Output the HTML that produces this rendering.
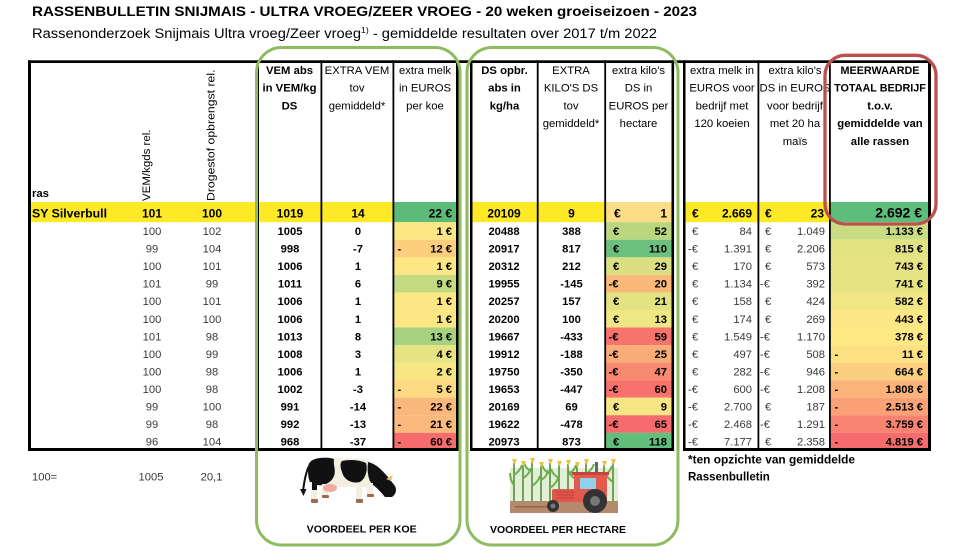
<!DOCTYPE html>
<html><head><meta charset="utf-8"><style>
html,body{margin:0;padding:0;background:#fff;}
svg{display:block}
text{font-family:"Liberation Sans",sans-serif;fill:#000}
.b{font-weight:bold}
.h{font-size:11.3px}
.d{font-size:11.2px}
.s{font-size:12px;font-weight:bold}
.g{fill:#3a3a3a}
.m{text-anchor:middle}
.e{text-anchor:end}
</style></head><body>
<svg width="980" height="551" viewBox="0 0 980 551" xmlns="http://www.w3.org/2000/svg">
<defs><clipPath id="c1"><rect x="759" y="60" width="70" height="140"/></clipPath></defs>
<rect width="980" height="551" fill="#fff"/>

<!-- titles -->
<text x="32" y="16" class="b" font-size="14" textLength="665" lengthAdjust="spacingAndGlyphs">RASSENBULLETIN SNIJMAIS - ULTRA VROEG/ZEER VROEG - 20 weken groeiseizoen - 2023</text>
<text x="32" y="38" font-size="13.5" textLength="625" lengthAdjust="spacingAndGlyphs">Rassenonderzoek Snijmais Ultra vroeg/Zeer vroeg<tspan font-size="8" dy="-5">1)</tspan><tspan dy="5"> - gemiddelde resultaten over 2017 t/m 2022</tspan></text>

<!-- yellow row -->
<rect x="31" y="202" width="426" height="20.2" fill="#fde925"/>
<rect x="472" y="202" width="200" height="20.2" fill="#fde925"/>
<rect x="685" y="202" width="145" height="20.2" fill="#fde925"/>
<rect x="393.5" y="202" width="63" height="20.2" fill="#5dbb7a"/>
<rect x="605" y="202" width="67" height="20.2" fill="#fcdc86"/>
<rect x="830" y="202" width="98" height="20.2" fill="#5dbd7b"/>

<!-- melk col fills -->
<g>
<rect x="393.5" y="222.2" width="63" height="17.6" fill="#fde684"/>
<rect x="393.5" y="239.75" width="63" height="17.6" fill="#fcce7e"/>
<rect x="393.5" y="257.3" width="63" height="17.6" fill="#fde684"/>
<rect x="393.5" y="274.85" width="63" height="17.6" fill="#c4da81"/>
<rect x="393.5" y="292.4" width="63" height="17.6" fill="#fde684"/>
<rect x="393.5" y="309.95" width="63" height="17.6" fill="#fde684"/>
<rect x="393.5" y="327.5" width="63" height="17.6" fill="#a6d17f"/>
<rect x="393.5" y="345.05" width="63" height="17.6" fill="#e6e383"/>
<rect x="393.5" y="362.6" width="63" height="17.6" fill="#f6e684"/>
<rect x="393.5" y="380.15" width="63" height="17.6" fill="#fdd982"/>
<rect x="393.5" y="397.7" width="63" height="17.6" fill="#fab87a"/>
<rect x="393.5" y="415.25" width="63" height="17.6" fill="#fbba7b"/>
<rect x="393.5" y="432.8" width="63" height="17.6" fill="#f66b6b"/>
</g>
<!-- DS euro col fills -->
<g>
<rect x="605" y="222.2" width="67" height="17.6" fill="#bad780"/>
<rect x="605" y="239.75" width="67" height="17.6" fill="#6ac07c"/>
<rect x="605" y="257.3" width="67" height="17.6" fill="#dae082"/>
<rect x="605" y="274.85" width="67" height="17.6" fill="#fab879"/>
<rect x="605" y="292.4" width="67" height="17.6" fill="#e4e383"/>
<rect x="605" y="309.95" width="67" height="17.6" fill="#efe684"/>
<rect x="605" y="327.5" width="67" height="17.6" fill="#f7746d"/>
<rect x="605" y="345.05" width="67" height="17.6" fill="#faac77"/>
<rect x="605" y="362.6" width="67" height="17.6" fill="#f88a71"/>
<rect x="605" y="380.15" width="67" height="17.6" fill="#f7726d"/>
<rect x="605" y="397.7" width="67" height="17.6" fill="#f7e684"/>
<rect x="605" y="415.25" width="67" height="17.6" fill="#f66b6b"/>
<rect x="605" y="432.8" width="67" height="17.6" fill="#63be7b"/>
</g>
<!-- MEER col fills -->
<g>
<rect x="830" y="222.2" width="98" height="17.6" fill="#c9dc81"/>
<rect x="830" y="239.75" width="98" height="17.6" fill="#e1e282"/>
<rect x="830" y="257.3" width="98" height="17.6" fill="#e6e383"/>
<rect x="830" y="274.85" width="98" height="17.6" fill="#e6e383"/>
<rect x="830" y="292.4" width="98" height="17.6" fill="#f1e684"/>
<rect x="830" y="309.95" width="98" height="17.6" fill="#fbe884"/>
<rect x="830" y="327.5" width="98" height="17.6" fill="#fde884"/>
<rect x="830" y="345.05" width="98" height="17.6" fill="#fde082"/>
<rect x="830" y="362.6" width="98" height="17.6" fill="#fcce7f"/>
<rect x="830" y="380.15" width="98" height="17.6" fill="#fbb379"/>
<rect x="830" y="397.7" width="98" height="17.6" fill="#faa176"/>
<rect x="830" y="415.25" width="98" height="17.6" fill="#f88370"/>
<rect x="830" y="432.8" width="98" height="17.6" fill="#f66b6b"/>
</g>

<!-- borders -->
<g fill="#000">
<rect x="28" y="60.3" width="903" height="2.7"/>
<rect x="28" y="448" width="430.5" height="3"/>
<rect x="470" y="448" width="204" height="3"/>
<rect x="683" y="448" width="248" height="3"/>
<rect x="28" y="60.3" width="3" height="390.7"/>
<rect x="257" y="60.3" width="2" height="390.7"/>
<rect x="320.5" y="60.3" width="1.8" height="390.7"/>
<rect x="392.5" y="60.3" width="1.8" height="390.7"/>
<rect x="456" y="60.3" width="2.5" height="390.7"/>
<rect x="470" y="60.3" width="2.5" height="390.7"/>
<rect x="536.8" y="60.3" width="1.8" height="390.7"/>
<rect x="604.3" y="60.3" width="1.8" height="390.7"/>
<rect x="671.5" y="60.3" width="2.6" height="390.7"/>
<rect x="683" y="60.3" width="2.5" height="390.7"/>
<rect x="757.5" y="60.3" width="1.8" height="390.7"/>
<rect x="829" y="60.3" width="1.8" height="390.7"/>
<rect x="928" y="60.3" width="3" height="390.7"/>
</g>

<!-- header texts -->
<g class="h">
<text x="32" y="197" class="b">ras</text>
<text transform="translate(150,201) rotate(-90)" textLength="71.5" lengthAdjust="spacingAndGlyphs">VEM/kgds rel.</text>
<text transform="translate(214.5,201) rotate(-90)" textLength="131.5" lengthAdjust="spacingAndGlyphs">Drogestof opbrengst rel.</text>

<text x="289.5" y="74" class="b m">VEM abs</text>
<text x="289.5" y="91.7" class="b m">in VEM/kg</text>
<text x="289.5" y="109.4" class="b m">DS</text>

<text x="357" y="74" class="m">EXTRA VEM</text>
<text x="357" y="91.7" class="m">tov</text>
<text x="357" y="109.4" class="m">gemiddeld*</text>

<text x="425" y="74" class="m">extra melk</text>
<text x="425" y="91.7" class="m">in EUROS</text>
<text x="425" y="109.4" class="m">per koe</text>

<text x="504.5" y="74" class="b m">DS opbr.</text>
<text x="504.5" y="91.7" class="b m">abs in</text>
<text x="504.5" y="109.4" class="b m">kg/ha</text>

<text x="571" y="74" class="m">EXTRA</text>
<text x="571" y="91.7" class="m">KILO'S DS</text>
<text x="571" y="109.4" class="m">tov</text>
<text x="571" y="127.1" class="m">gemiddeld*</text>

<text x="638.5" y="74" class="m">extra kilo's</text>
<text x="638.5" y="91.7" class="m">DS in</text>
<text x="638.5" y="109.4" class="m">EUROS per</text>
<text x="638.5" y="127.1" class="m">hectare</text>

<text x="722" y="74" class="m">extra melk in</text>
<text x="722" y="91.7" class="m">EUROS voor</text>
<text x="722" y="109.4" class="m">bedrijf met</text>
<text x="722" y="127.1" class="m">120 koeien</text>

<g clip-path="url(#c1)">
<text x="795" y="74" class="m">extra kilo's</text>
<text x="795" y="91.7" class="m">DS in EUROS</text>
<text x="795" y="109.4" class="m">voor bedrijf</text>
<text x="795" y="127.1" class="m">met 20 ha</text>
<text x="795" y="144.8" class="m">maïs</text>
</g>

<text x="880" y="74" class="b m" font-size="10.8">MEERWAARDE</text>
<text x="880" y="91.7" class="b m" font-size="10.8">TOTAAL BEDRIJF</text>
<text x="880" y="109.4" class="b m">t.o.v.</text>
<text x="880" y="127.1" class="b m">gemiddelde van</text>
<text x="880" y="144.8" class="b m">alle rassen</text>
</g>

<!-- Silverbull row -->
<g transform="translate(0,217.3)" class="s">
<text x="32" textLength="75" lengthAdjust="spacingAndGlyphs">SY Silverbull</text>
<text x="152" class="m">101</text>
<text x="212" class="m">100</text>
<text x="290" class="m">1019</text>
<text x="358" class="m">14</text>
<text x="452" class="e">22 €</text>
<text x="504" class="m">20109</text>
<text x="571.5" class="m">9</text>
<text x="614">€</text>
<text x="667" class="e">1</text>
<text x="692">€</text>
<text x="752" class="e">2.669</text>
<text x="765">€</text>
<text x="824" class="e">23</text>
<text x="922" class="e" font-size="14">2.692 €</text>
</g>

<!-- data rows -->
<g class="d">
<g transform="translate(0,235)">
<text x="152" class="g m">100</text><text x="212" class="g m">102</text>
<text x="290" class="b m">1005</text><text x="358" class="b m">0</text>
<text x="452" class="b e">1 €</text>
<text x="504" class="b m">20488</text><text x="571.5" class="b m">388</text>
<text x="613" class="b">€</text><text x="667" class="b e">52</text>
<text x="692" class="g">€</text><text x="752" class="g e">84</text>
<text x="765" class="g">€</text><text x="825" class="g e">1.049</text>
<text x="923" class="b e">1.133 €</text>
</g>
<g transform="translate(0,252.55)">
<text x="152" class="g m">99</text><text x="212" class="g m">104</text>
<text x="290" class="b m">998</text><text x="358" class="b m">-7</text>
<text x="397.5" class="b">-</text><text x="452" class="b e">12 €</text>
<text x="504" class="b m">20917</text><text x="571.5" class="b m">817</text>
<text x="613" class="b">€</text><text x="667" class="b e">110</text>
<text x="688" class="g">-€</text><text x="752" class="g e">1.391</text>
<text x="765" class="g">€</text><text x="825" class="g e">2.206</text>
<text x="923" class="b e">815 €</text>
</g>
<g transform="translate(0,270.1)">
<text x="152" class="g m">100</text><text x="212" class="g m">101</text>
<text x="290" class="b m">1006</text><text x="358" class="b m">1</text>
<text x="452" class="b e">1 €</text>
<text x="504" class="b m">20312</text><text x="571.5" class="b m">212</text>
<text x="613" class="b">€</text><text x="667" class="b e">29</text>
<text x="692" class="g">€</text><text x="752" class="g e">170</text>
<text x="765" class="g">€</text><text x="825" class="g e">573</text>
<text x="923" class="b e">743 €</text>
</g>
<g transform="translate(0,287.65)">
<text x="152" class="g m">101</text><text x="212" class="g m">99</text>
<text x="290" class="b m">1011</text><text x="358" class="b m">6</text>
<text x="452" class="b e">9 €</text>
<text x="504" class="b m">19955</text><text x="571.5" class="b m">-145</text>
<text x="608.5" class="b">-€</text><text x="667" class="b e">20</text>
<text x="692" class="g">€</text><text x="752" class="g e">1.134</text>
<text x="760" class="g">-€</text><text x="825" class="g e">392</text>
<text x="923" class="b e">741 €</text>
</g>
<g transform="translate(0,305.2)">
<text x="152" class="g m">100</text><text x="212" class="g m">101</text>
<text x="290" class="b m">1006</text><text x="358" class="b m">1</text>
<text x="452" class="b e">1 €</text>
<text x="504" class="b m">20257</text><text x="571.5" class="b m">157</text>
<text x="613" class="b">€</text><text x="667" class="b e">21</text>
<text x="692" class="g">€</text><text x="752" class="g e">158</text>
<text x="765" class="g">€</text><text x="825" class="g e">424</text>
<text x="923" class="b e">582 €</text>
</g>
<g transform="translate(0,322.75)">
<text x="152" class="g m">100</text><text x="212" class="g m">100</text>
<text x="290" class="b m">1006</text><text x="358" class="b m">1</text>
<text x="452" class="b e">1 €</text>
<text x="504" class="b m">20200</text><text x="571.5" class="b m">100</text>
<text x="613" class="b">€</text><text x="667" class="b e">13</text>
<text x="692" class="g">€</text><text x="752" class="g e">174</text>
<text x="765" class="g">€</text><text x="825" class="g e">269</text>
<text x="923" class="b e">443 €</text>
</g>
<g transform="translate(0,340.3)">
<text x="152" class="g m">101</text><text x="212" class="g m">98</text>
<text x="290" class="b m">1013</text><text x="358" class="b m">8</text>
<text x="452" class="b e">13 €</text>
<text x="504" class="b m">19667</text><text x="571.5" class="b m">-433</text>
<text x="608.5" class="b">-€</text><text x="667" class="b e">59</text>
<text x="692" class="g">€</text><text x="752" class="g e">1.549</text>
<text x="760" class="g">-€</text><text x="825" class="g e">1.170</text>
<text x="923" class="b e">378 €</text>
</g>
<g transform="translate(0,357.85)">
<text x="152" class="g m">100</text><text x="212" class="g m">99</text>
<text x="290" class="b m">1008</text><text x="358" class="b m">3</text>
<text x="452" class="b e">4 €</text>
<text x="504" class="b m">19912</text><text x="571.5" class="b m">-188</text>
<text x="608.5" class="b">-€</text><text x="667" class="b e">25</text>
<text x="692" class="g">€</text><text x="752" class="g e">497</text>
<text x="760" class="g">-€</text><text x="825" class="g e">508</text>
<text x="834.5" class="b">-</text><text x="923" class="b e">11 €</text>
</g>
<g transform="translate(0,375.4)">
<text x="152" class="g m">100</text><text x="212" class="g m">98</text>
<text x="290" class="b m">1006</text><text x="358" class="b m">1</text>
<text x="452" class="b e">2 €</text>
<text x="504" class="b m">19750</text><text x="571.5" class="b m">-350</text>
<text x="608.5" class="b">-€</text><text x="667" class="b e">47</text>
<text x="692" class="g">€</text><text x="752" class="g e">282</text>
<text x="760" class="g">-€</text><text x="825" class="g e">946</text>
<text x="834.5" class="b">-</text><text x="923" class="b e">664 €</text>
</g>
<g transform="translate(0,392.95)">
<text x="152" class="g m">100</text><text x="212" class="g m">98</text>
<text x="290" class="b m">1002</text><text x="358" class="b m">-3</text>
<text x="397.5" class="b">-</text><text x="452" class="b e">5 €</text>
<text x="504" class="b m">19653</text><text x="571.5" class="b m">-447</text>
<text x="608.5" class="b">-€</text><text x="667" class="b e">60</text>
<text x="688" class="g">-€</text><text x="752" class="g e">600</text>
<text x="760" class="g">-€</text><text x="825" class="g e">1.208</text>
<text x="834.5" class="b">-</text><text x="923" class="b e">1.808 €</text>
</g>
<g transform="translate(0,410.5)">
<text x="152" class="g m">99</text><text x="212" class="g m">100</text>
<text x="290" class="b m">991</text><text x="358" class="b m">-14</text>
<text x="397.5" class="b">-</text><text x="452" class="b e">22 €</text>
<text x="504" class="b m">20169</text><text x="571.5" class="b m">69</text>
<text x="613" class="b">€</text><text x="667" class="b e">9</text>
<text x="688" class="g">-€</text><text x="752" class="g e">2.700</text>
<text x="765" class="g">€</text><text x="825" class="g e">187</text>
<text x="834.5" class="b">-</text><text x="923" class="b e">2.513 €</text>
</g>
<g transform="translate(0,428.05)">
<text x="152" class="g m">99</text><text x="212" class="g m">98</text>
<text x="290" class="b m">992</text><text x="358" class="b m">-13</text>
<text x="397.5" class="b">-</text><text x="452" class="b e">21 €</text>
<text x="504" class="b m">19622</text><text x="571.5" class="b m">-478</text>
<text x="608.5" class="b">-€</text><text x="667" class="b e">65</text>
<text x="688" class="g">-€</text><text x="752" class="g e">2.468</text>
<text x="760" class="g">-€</text><text x="825" class="g e">1.291</text>
<text x="834.5" class="b">-</text><text x="923" class="b e">3.759 €</text>
</g>
<g transform="translate(0,445.6)">
<text x="152" class="g m">96</text><text x="212" class="g m">104</text>
<text x="290" class="b m">968</text><text x="358" class="b m">-37</text>
<text x="397.5" class="b">-</text><text x="452" class="b e">60 €</text>
<text x="504" class="b m">20973</text><text x="571.5" class="b m">873</text>
<text x="613" class="b">€</text><text x="667" class="b e">118</text>
<text x="688" class="g">-€</text><text x="752" class="g e">7.177</text>
<text x="765" class="g">€</text><text x="825" class="g e">2.358</text>
<text x="834.5" class="b">-</text><text x="923" class="b e">4.819 €</text>
</g>
</g>

<!-- below table -->
<g class="d">
<text x="32" y="480.5" class="g">100=</text>
<text x="151" y="480.5" class="g m">1005</text>
<text x="211.5" y="480.5" class="g m">20,1</text>
<text x="688" y="463.5" class="b" font-size="11.5" textLength="167" lengthAdjust="spacingAndGlyphs">*ten opzichte van gemiddelde</text>
<text x="688" y="480.5" class="b" font-size="11.5">Rassenbulletin</text>
</g>
<text x="361.7" y="532.5" class="b m" font-size="10" textLength="110" lengthAdjust="spacingAndGlyphs">VOORDEEL PER KOE</text>
<text x="558" y="533" class="b m" font-size="10" textLength="136" lengthAdjust="spacingAndGlyphs">VOORDEEL PER HECTARE</text>

<!-- cow -->
<g>
<path d="M309 466 C305 474 304 484 303 491" stroke="#111" stroke-width="2" fill="none"/>
<path d="M300 489 l3.5 7 l3 -7 z" fill="#111"/>
<path d="M308 468 C308 459 318 457 330 458 L360 459 C368 459 374 462 378 466 L380 480 C378 486 370 488 362 487 L330 487 C318 488 309 484 308 476 Z" fill="#f2eee0"/>
<path d="M308 468 C308 459 318 457 330 458 L334 459 C333 466 337 472 333 478 C329 485 318 488 310 482 C308 478 308 472 308 468 Z" fill="#111"/>
<path d="M342 461 C350 459 360 460 366 463 C368 470 366 478 360 482 C352 484 344 480 342 472 C340 467 340 463 342 461 Z" fill="#111"/>
<path d="M368 462 C376 464 382 470 388 477 L395 486 C397 490 396 494 392 497 L385 497 C381 492 377 488 372 484 C368 480 367 470 368 462 Z" fill="#111"/>
<path d="M386 479 l7 -4 l-2 6 z" fill="#e3c07a"/>
<rect x="311" y="482" width="6" height="18" fill="#f2eee0"/>
<rect x="312" y="482" width="5" height="8" fill="#111"/>
<rect x="322" y="484" width="6" height="12" fill="#f2eee0"/>
<rect x="356" y="483" width="6" height="17" fill="#f2eee0"/>
<rect x="367" y="483" width="6" height="12" fill="#f2eee0"/>
<rect x="311" y="499" width="7" height="4" rx="1" fill="#9b6b52"/>
<rect x="322" y="495" width="7" height="3" rx="1" fill="#9b6b52"/>
<rect x="356" y="499" width="7" height="4" rx="1" fill="#9b6b52"/>
<rect x="367" y="494" width="7" height="3" rx="1" fill="#9b6b52"/>
<ellipse cx="330" cy="488" rx="7" ry="4" fill="#f2aaa0"/>
</g>

<!-- tractor & corn -->
<g>
<rect x="510" y="468" width="108" height="34" fill="#e2eed6"/>
<g stroke="#4f8f3a" stroke-width="1.6" fill="none">
<path d="M514 463 V502 M523 465 V502 M532 462 V502 M541 466 V502 M550 463 V502 M559 465 V502 M568 464 V502 M577 466 V502 M586 463 V502 M604 465 V502 M613 463 V502"/>
</g>
<g stroke="#6fae4f" stroke-width="2" fill="none">
<path d="M514 475 q6 -4 8 -10 M514 485 q-4 -5 -4 -12 M523 478 q6 -3 8 -10 M532 472 q-6 -3 -8 -9 M532 486 q6 -4 8 -10 M541 480 q6 -3 7 -10 M550 474 q-6 -3 -8 -9 M550 488 q6 -4 8 -10 M559 478 q-6 -3 -8 -9 M568 475 q6 -4 8 -10 M577 480 q-6 -3 -8 -9 M586 474 q6 -4 8 -10 M604 476 q6 -4 8 -10 M613 482 q-6 -4 -8 -10 M604 488 q-6 -3 -8 -9"/>
</g>
<g fill="#e8c23a">
<path d="M512 459 h5 l-2.5 6z M521 461 h5 l-2.5 6z M530 458 h5 l-2.5 6z M539 462 h5 l-2.5 6z M548 459 h5 l-2.5 6z M557 461 h5 l-2.5 6z M566 460 h5 l-2.5 6z M575 462 h5 l-2.5 6z M584 459 h5 l-2.5 6z M602 461 h5 l-2.5 6z M611 459 h5 l-2.5 6z"/>
</g>
<rect x="510" y="501" width="108" height="12" fill="#b58a6c"/>
<rect x="515" y="506" width="40" height="1.5" fill="#8e6549"/>
<rect x="552" y="489" width="30" height="13" rx="2" fill="#e0564a"/>
<path d="M556 492 h20 M556 495 h20 M556 498 h20" stroke="#c2443a" stroke-width="1"/>
<rect x="574" y="474" width="33" height="28" fill="#e35a4c"/>
<rect x="572" y="472" width="37" height="3" fill="#c8443a"/>
<rect x="580" y="478" width="16" height="11" fill="#8fd0ea"/>
<rect x="595" y="462" width="3" height="11" fill="#666"/>
<circle cx="595" cy="501" r="12" fill="#333"/>
<circle cx="595" cy="501" r="5" fill="#777"/>
<circle cx="553" cy="506" r="6" fill="#333"/>
<circle cx="553" cy="506" r="2.5" fill="#777"/>
</g>

<!-- highlight boxes -->
<rect x="256.5" y="47.5" width="203.5" height="497.5" rx="25" fill="none" stroke="#8fbb5f" stroke-width="3"/>
<rect x="467" y="47.5" width="211" height="497.5" rx="25" fill="none" stroke="#8fbb5f" stroke-width="3"/>
<rect x="825" y="55.3" width="111" height="168.7" rx="20" fill="none" stroke="#bb504d" stroke-width="3.3"/>
</svg>
</body></html>
